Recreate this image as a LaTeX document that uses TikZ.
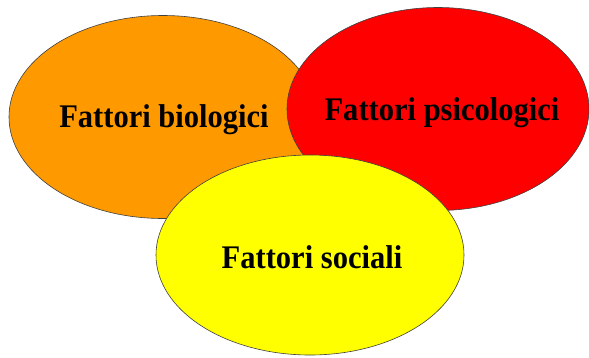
\documentclass[tikz,border=0pt]{standalone}
\usepackage{fontspec}
\setmainfont{Liberation Serif}
\usetikzlibrary{positioning,shapes.geometric}
\definecolor{orangeA}{HTML}{FF9900}
\definecolor{redB}{HTML}{FF0000}
\definecolor{yellowC}{HTML}{FFFF00}
\tikzset{
  fattore/.style={ellipse,draw=black!75,line width=0.6pt,inner sep=0pt,
    minimum width=308pt,minimum height=203pt},
  etichetta/.style={anchor=base,inner sep=0pt,xscale=0.925,
    font=\fontsize{33}{38}\selectfont\bfseries}
}

\begin{document}
\begin{tikzpicture}[x=1pt,y=-1pt]
\useasboundingbox (0,0) rectangle (589,357);
\node[fattore,fill=orangeA] (bio) at (163,117) {};
\node[fattore,fill=redB,minimum width=302pt] (psico) at (438,109) {};
\node[fattore,fill=yellowC,minimum height=200pt] (soc) at (310,255) {};
% testi
\node[etichetta] (biotxt) at (164,127) {Fattori biologici};
\node[etichetta] (psicotxt) at (442,120) {Fattori psicologici};
\node[etichetta] (soctxt) at (312,268) {Fattori sociali};
\end{tikzpicture}
\end{document}
